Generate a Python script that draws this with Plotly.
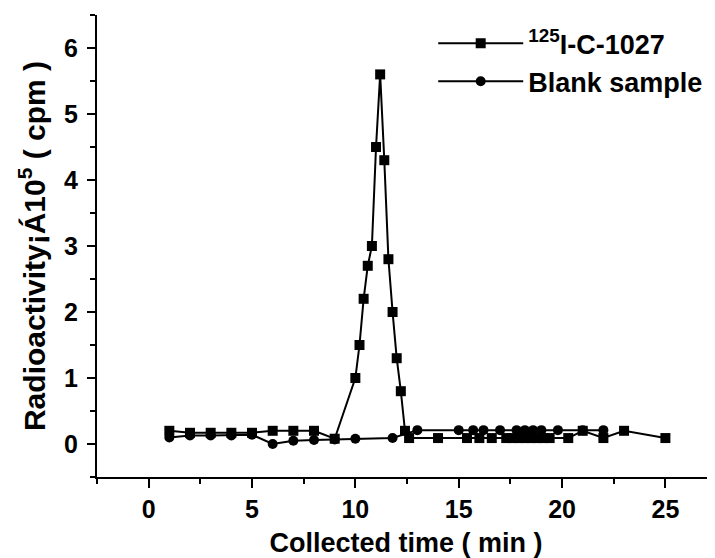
import plotly.graph_objects as go

# 125I-C-1027 series (squares)
x_c1027 = [1, 2, 3, 4, 5, 6, 7, 8, 9, 10, 10.2, 10.4, 10.6, 10.8, 11, 11.2, 11.4, 11.6,
           11.8, 12, 12.2, 12.4, 12.6, 14, 15.4, 16, 16.6, 17.3, 17.6, 17.9, 18.2, 18.5,
           18.8, 19.1, 19.4, 20.3, 21, 22, 23, 25]
y_c1027 = [0.2, 0.17, 0.17, 0.17, 0.17, 0.2, 0.2, 0.2, 0.08, 1.0, 1.5, 2.2, 2.7, 3.0, 4.5,
           5.6, 4.3, 2.8, 2.0, 1.3, 0.8, 0.2, 0.09, 0.09, 0.09, 0.09, 0.09, 0.09, 0.09,
           0.09, 0.09, 0.09, 0.09, 0.09, 0.09, 0.09, 0.2, 0.09, 0.2, 0.09]

# Blank sample series (circles)
x_blank = [1, 2, 3, 4, 5, 6, 7, 8, 9, 10, 11.8, 13, 15, 15.7, 16.2, 17, 17.8, 18.2,
           18.6, 19, 19.8, 21, 22]
y_blank = [0.1, 0.13, 0.13, 0.13, 0.14, 0.0, 0.05, 0.06, 0.07, 0.08, 0.09, 0.21, 0.21,
           0.21, 0.21, 0.21, 0.21, 0.21, 0.21, 0.21, 0.21, 0.21, 0.21]

x_ticks = [0, 5, 10, 15, 20, 25]
y_ticks = [0, 1, 2, 3, 4, 5, 6]

FONT = "Liberation Sans, Arial, sans-serif"
NB = "\u00a0"

fig = go.Figure()
fig.add_trace(go.Scatter(
    x=x_c1027, y=y_c1027, mode="lines+markers",
    name="<sup>125</sup>I-C-1027",
    line=dict(color="black", width=2),
    marker=dict(symbol="square", size=10, color="black"),
))
fig.add_trace(go.Scatter(
    x=x_blank, y=y_blank, mode="lines+markers",
    name="Blank sample",
    line=dict(color="black", width=2),
    marker=dict(symbol="circle", size=10, color="black"),
))

# page body adds an 8px offset; figure sized so the visible area matches
fig.update_layout(
    width=707, height=550,
    margin=dict(l=89, r=0, t=7, b=81),
    paper_bgcolor="white", plot_bgcolor="white",
    font=dict(family=FONT, size=25, color="black", weight="bold"),
    legend=dict(
        x=0.544, y=0.991, xanchor="left", yanchor="top",
        font=dict(family=FONT, size=27, color="black", weight="bold"),
        bgcolor="rgba(0,0,0,0)", itemwidth=85,
        tracegroupgap=0,
    ),
    xaxis=dict(
        range=[-2.5, 27.4], tickvals=x_ticks, automargin=False,
        showline=True, linecolor="black", linewidth=2,
        ticks="outside", ticklen=9, tickwidth=2, tickcolor="black",
        minor=dict(dtick=2.5, tick0=0, ticks="outside", ticklen=5, tickwidth=2,
                   tickcolor="black"),
        showgrid=False, zeroline=False, mirror=False,
        tickfont=dict(size=25, family=FONT, weight="bold"),
        title=dict(text="Collected time ( min )", standoff=14,
                   font=dict(size=27, family=FONT, weight="bold")),
    ),
    yaxis=dict(
        range=[-0.5, 6.5], tickvals=y_ticks, automargin=False,
        showline=True, linecolor="black", linewidth=2,
        ticks="outside", ticklen=8, tickwidth=2, tickcolor="black",
        ticklabelstandoff=4,
        minor=dict(dtick=0.5, tick0=0, ticks="outside", ticklen=5, tickwidth=2,
                   tickcolor="black"),
        showgrid=False, zeroline=False, mirror=False,
        tickfont=dict(size=25, family=FONT, weight="bold"),
        title=dict(text=NB * 5 + "Radioactivity¡Á10<sup>5</sup> ( cpm )", standoff=10,
                   font=dict(size=30, family=FONT, weight="bold")),
    ),
)

fig.write_html("out.html")
